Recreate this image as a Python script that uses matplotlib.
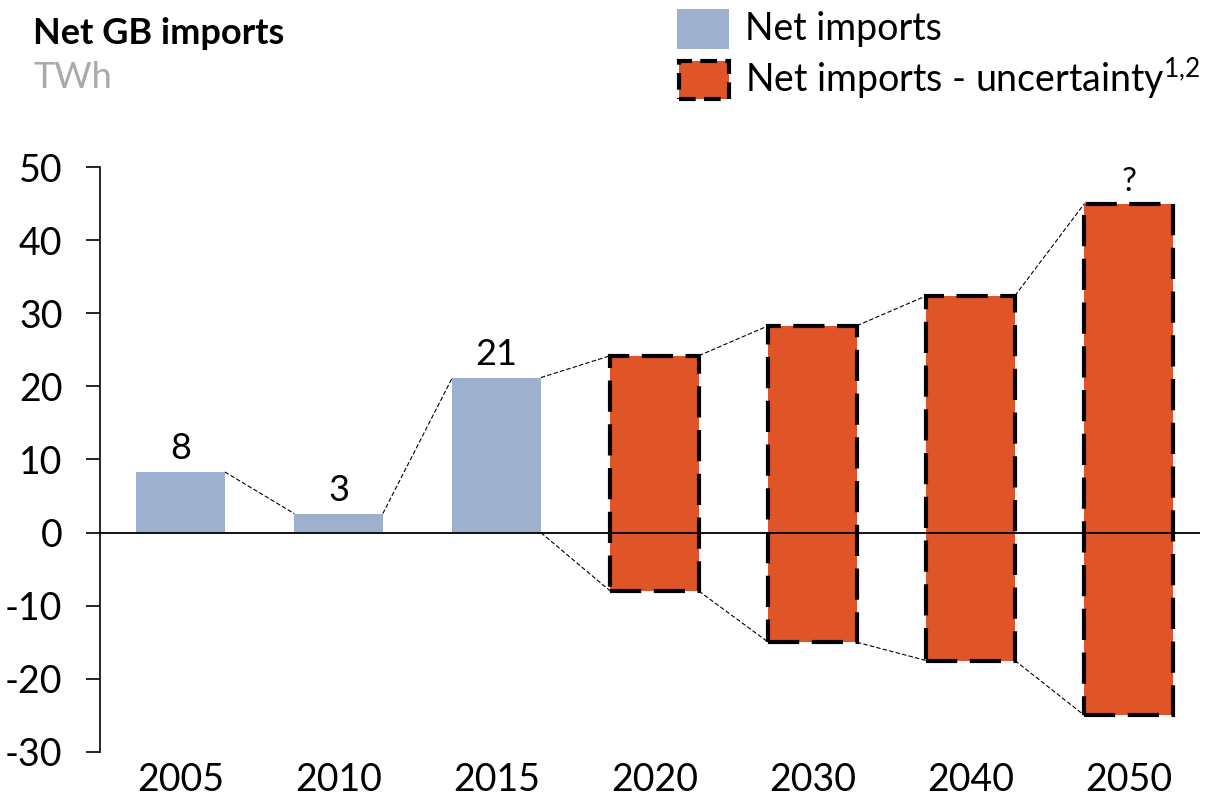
import matplotlib
matplotlib.use("Agg")
import matplotlib.pyplot as plt
from matplotlib.patches import Rectangle

plt.rcParams['font.family'] = ['Lato', 'DejaVu Sans']
plt.rcParams['mathtext.fontset'] = 'custom'
plt.rcParams['mathtext.rm'] = 'Lato'
plt.rcParams['mathtext.it'] = 'Lato'
plt.rcParams['axes.unicode_minus'] = False

years = ["2005", "2010", "2015", "2020", "2030", "2040", "2050"]
hist_values = [8.3, 2.6, 21.2]
hist_labels = ["8", "3", "21"]
unc_high = [24.2, 28.3, 32.4, 45.0]
unc_low = [-8.0, -15.0, -17.5, -25.0]

blue = "#9DB0CE"
orange = "#E05528"

fig = plt.figure(figsize=(12.1, 8.01), dpi=100)
ax = fig.add_axes([0.0826, 0.0612, 0.909, 0.7303])

w = 0.56
n_hist = len(hist_values)
x_hist = list(range(n_hist))
x_unc = list(range(n_hist, len(years)))

ax.bar(x_hist, hist_values, width=w, color=blue, zorder=2)
ax.bar(x_unc, [h - l for h, l in zip(unc_high, unc_low)], bottom=unc_low,
       width=w, color=orange, edgecolor="black", linewidth=3,
       linestyle=(0, (7.5, 3)), zorder=3)

for x, v, lab in zip(x_hist, hist_values, hist_labels):
    ax.annotate(lab, (x, v), xytext=(0, 5), textcoords="offset points",
                ha="center", va="bottom", fontsize=26)
ax.annotate("?", (x_unc[-1], unc_high[-1]), xytext=(0, 5), textcoords="offset points",
            ha="center", va="bottom", fontsize=24)

# dashed connectors between adjacent bars
tops = hist_values + unc_high
lows = [0] * n_hist + unc_low
for i in range(len(years) - 1):
    for a, b in ((tops[i], tops[i + 1]), (lows[i], lows[i + 1])):
        if a == 0 and b == 0:
            continue
        ax.plot([i + w / 2, i + 1 - w / 2], [a, b], color="black",
                linewidth=0.8, linestyle=(0, (4, 2)), zorder=1)

ax.axhline(0, color="black", linewidth=1.3, zorder=4)

ax.set_xlim(-0.51, 6.45)
ax.set_ylim(-30, 50)
ax.set_yticks(range(-30, 51, 10))
ax.set_xticks(range(len(years)))
ax.set_xticklabels(years)
ax.tick_params(axis="y", labelsize=27, length=10, width=1.2, pad=17)
ax.tick_params(axis="x", labelsize=27, length=0, pad=7)
for s in ("top", "right", "bottom"):
    ax.spines[s].set_visible(False)
ax.spines["left"].set_linewidth(1.2)

# title
fig.text(33 / 1210, 1 - 33 / 801, "Net GB imports", fontsize=26, fontweight="bold",
         ha="left", va="center")
fig.text(33 / 1210, 1 - 78 / 801, "TWh", fontsize=26, color="#AAAAAA",
         ha="left", va="center")

# legend
fig.add_artist(Rectangle((677 / 1210, 1 - 49 / 801), 52 / 1210, 40 / 801,
                         transform=fig.transFigure, facecolor=blue, edgecolor="none"))
fig.add_artist(Rectangle((679 / 1210, 1 - 99 / 801), 50 / 1210, 38 / 801,
                         transform=fig.transFigure, facecolor=orange, edgecolor="black",
                         linewidth=3, linestyle=(0, (4, 2))))
fig.text(745 / 1210, 1 - 29 / 801, "Net imports", fontsize=27, ha="left", va="center")
fig.text(745 / 1210, 1 - 78 / 801, "Net imports - uncertainty$^{1{,}2}$", fontsize=27,
         ha="left", va="center")

fig.savefig("out.png", dpi=100)
